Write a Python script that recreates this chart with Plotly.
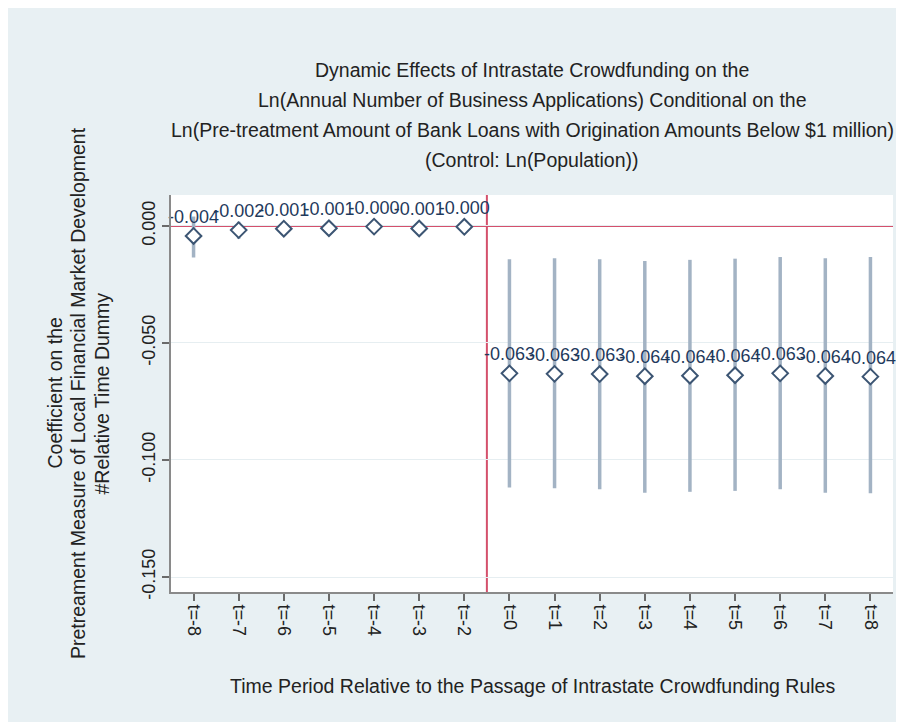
import plotly.graph_objects as go

periods = ["t=-8", "t=-7", "t=-6", "t=-5", "t=-4", "t=-3", "t=-2",
           "t=0", "t=1", "t=2", "t=3", "t=4", "t=5", "t=6", "t=7", "t=8"]
estimates = [-0.0043, -0.0018, -0.0012, -0.0010, -0.0003, -0.0011, -0.0004,
             -0.0630, -0.0632, -0.0633, -0.0642, -0.0640, -0.0638, -0.0630, -0.0641, -0.0644]
ci_low = [-0.0135, -0.0055, -0.0035, -0.0030, -0.0025, -0.0030, -0.0025,
          -0.1118, -0.1121, -0.1125, -0.1140, -0.1136, -0.1132, -0.1125, -0.1140, -0.1142]
ci_high = [0.0040, 0.0018, 0.0012, 0.0010, 0.0018, 0.0010, 0.0017,
           -0.0142, -0.0138, -0.0142, -0.0150, -0.0145, -0.0140, -0.0133, -0.0138, -0.0133]
y_ticks = [0.0, -0.05, -0.10, -0.15]
y_tick_labels = ["0.000", "-0.050", "-0.100", "-0.150"]
title_lines = [
    "Dynamic Effects of Intrastate Crowdfunding on the",
    "Ln(Annual Number of Business Applications) Conditional on the",
    "Ln(Pre-treatment Amount of Bank Loans with Origination Amounts Below $1 million)",
    "(Control: Ln(Population))",
]
ytitle_lines = [
    "Coefficient on the",
    "Pretreament Measure of Local Financial Market Development",
    "#Relative Time Dummy",
]
xtitle = "Time Period Relative to the Passage of Intrastate Crowdfunding Rules"

FONT = "Liberation Sans, Arial, sans-serif"
W, H = 896, 714
L, R, T, B = 163, 11, 187, 130
PW, PH = W - L - R, H - T - B

fig = go.Figure()

# confidence intervals
for i, p in enumerate(periods):
    fig.add_trace(go.Scatter(
        x=[p, p], y=[ci_low[i], ci_high[i]], mode="lines",
        line=dict(color="#a3b3c4", width=3.5), showlegend=False, hoverinfo="skip"))

# point estimates
fig.add_trace(go.Scatter(
    x=periods, y=estimates, mode="markers+text",
    marker=dict(symbol="diamond", size=12, color="white",
                line=dict(width=2, color="#3c5573")),
    text=[f"{v:.3f}" for v in estimates], textposition="top center",
    textfont=dict(family=FONT, size=18, color="#1f3a5c"),
    showlegend=False, cliponaxis=False))

# reference lines
fig.add_hline(y=0, line=dict(color="#d4506c", width=2), layer="below")
fig.add_vline(x=6.5, line=dict(color="#d4506c", width=2), layer="below")

ann = []
for k, line in enumerate(title_lines):
    ann.append(dict(text=line, xref="paper", yref="paper", x=0.5,
                    y=(H - B - (62 + 30 * k)) / PH, xanchor="center", yanchor="middle",
                    showarrow=False, font=dict(family=FONT, size=19.5, color="#222222")))
for k, line in enumerate(ytitle_lines):
    ann.append(dict(text=line, xref="paper", yref="paper",
                    x=(46 + 23.5 * k - L) / PW, y=0.5, xanchor="center", yanchor="middle",
                    textangle=-90, showarrow=False, font=dict(family=FONT, size=19.5, color="#222222")))
ann.append(dict(text=xtitle, xref="paper", yref="paper", x=0.5,
                y=(H - B - 678) / PH, xanchor="center", yanchor="middle",
                showarrow=False, font=dict(family=FONT, size=19.5, color="#222222")))

fig.update_layout(
    width=W, height=H,
    margin=dict(l=L, r=R, t=T, b=B, pad=0),
    paper_bgcolor="#e8f0f3", plot_bgcolor="white",
    font=dict(family=FONT, size=18, color="#222222"),
    annotations=ann,
    xaxis=dict(type="category", categoryorder="array", categoryarray=periods,
               range=[-0.5, 15.5], showline=True, linecolor="#8a8a8a", linewidth=2,
               ticks="outside", ticklen=7, tickcolor="#6a6a6a", tickwidth=1.5,
               tickangle=90, showgrid=False, zeroline=False,
               tickfont=dict(family=FONT, size=18, color="#222222")),
    yaxis=dict(range=[-0.1564, 0.0132], tickvals=y_ticks, ticktext=y_tick_labels,
               showline=True, linecolor="#8a8a8a", linewidth=2,
               ticks="outside", ticklen=7, tickcolor="#6a6a6a", tickwidth=1.5,
               tickangle=-90, showgrid=True, gridcolor="#e6eef1", gridwidth=1,
               zeroline=False, tickfont=dict(family=FONT, size=18, color="#222222")),
)

fig.write_html("out.html")
